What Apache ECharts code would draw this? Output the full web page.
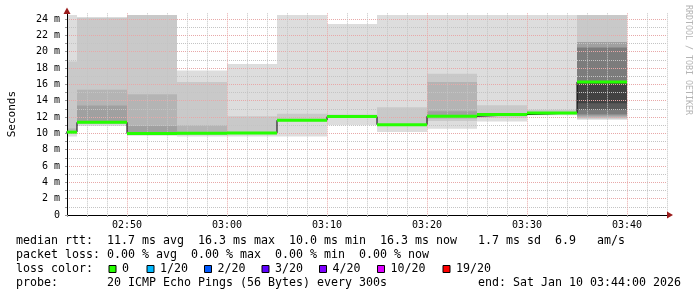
<!DOCTYPE html>
<html><head><meta charset="utf-8">
<script src="https://cdn.jsdelivr.net/npm/echarts@6/dist/echarts.min.js"></script>
<style>html,body{margin:0;padding:0;background:#fff}#c{width:697px;height:297px}</style>
</head><body><div id="c"></div>
<script>
// ---- data ----
const slotStarts = ['02:40','02:45','02:50','02:55','03:00','03:05','03:10','03:15','03:20','03:25','03:30','03:35'];
const slotMinutes = 5;
const medianMs = [10.15, 11.35, 9.97, 10.0, 10.05, 11.6, 12.05, 11.06, 12.1, 12.3, 12.5, 16.3];
// smoke layers, outermost (lightest) to innermost (darkest): [low, high] in ms
const smoke0 = [[9.6,24.5],[10.9,24.2],[9.7,24.5],[9.6,17.7],[9.6,18.5],[9.6,24.5],[11.0,23.4],[10.15,24.5],[10.55,24.5],[11.45,24.5],[12.2,24.5],[11.65,24.5]];
const smoke1 = [[10.0,18.8],[11.1,24.2],[9.8,24.5],[9.8,16.3],[9.9,12.1],[11.45,12.4],[11.9,12.3],[10.9,13.2],[11.5,17.3],[11.9,13.45],[12.3,12.9],[11.8,24.5]];
const smoke2 = [[10.05,10.6],[11.2,15.35],[9.9,14.8],[9.9,11.0],null,null,null,null,[11.8,16.3],null,null,[11.9,21.2]];
const smoke3 = [null,[11.3,13.4],[9.95,10.9],null,null,null,null,null,[12.0,12.7],null,null,[12.1,21.2]];
const smoke4 = [null,null,null,null,null,null,null,null,null,null,null,[12.3,20.5]];
const smoke5 = [null,null,null,null,null,null,null,null,null,null,null,[12.9,16.3]];
const smoke6 = [null,null,null,null,null,null,null,null,null,null,null,[13.7,16.3]];
const axisStart = '02:44', axisEnd = '03:44';
const xTickLabels = ['02:50','03:00','03:10','03:20','03:30','03:40'];
const yTickValues = [0,2,4,6,8,10,12,14,16,18,20,22,24];
const yTickLabels = ['0','2 m','4 m','6 m','8 m','10 m','12 m','14 m','16 m','18 m','20 m','22 m','24 m'];
const lossLabels = ['0','1/20','2/20','3/20','4/20','10/20','19/20'];
const lossColors = ['#26ff00','#00b8ff','#0059ff','#5e00ff','#7e00ff','#dd00ff','#ff0000'];
const legendLine1 = 'median rtt:  11.7 ms avg  16.3 ms max  10.0 ms min  16.3 ms now   1.7 ms sd  6.9   am/s';
const legendLine2 = 'packet loss: 0.00 % avg  0.00 % max  0.00 % min  0.00 % now';
const legendLine3 = 'loss color:';
const legendLine4 = 'probe:       20 ICMP Echo Pings (56 Bytes) every 300s';
const legendEnd = 'end: Sat Jan 10 03:44:00 2026';

// ---- helpers ----
const toMin = s => { const p = s.split(':').map(Number); return p[0]*60 + p[1]; };
const fmtMin = m => String(Math.floor(m/60)).padStart(2,'0') + ':' + String(m%60).padStart(2,'0');
const xMin = toMin(axisStart), xMax = toMin(axisEnd);
const layers = [smoke0, smoke1, smoke2, smoke3, smoke4, smoke5, smoke6];
const layerColors = ['#dddddd','#c9c9c9','#b4b4b4','#a0a0a0','#7c7c7c','#5a5a5a','#424242'];
const MONO = '"DejaVu Sans Mono", monospace';
const RED = '#e8a8a8', GRAY = '#c4c4c4';

const xSplitColors = [];
for (let v = xMin; v <= xMax; v += 2) xSplitColors.push(v % 10 === 0 ? RED : GRAY);
const yMax = 24.7;
const ySplitColors = [];
for (let v = 0; v <= 24; v++) ySplitColors.push(v % 2 === 0 ? RED : GRAY);
ySplitColors.push('rgba(0,0,0,0)');

const slotData = slotStarts.map((s, i) => [toMin(s), toMin(s) + slotMinutes, i, smoke0[i][0], smoke0[i][1]]);
const medianLine = slotStarts.map((s, i) => [toMin(s), medianMs[i]]);
medianLine.push([toMin(slotStarts[slotStarts.length-1]) + slotMinutes, medianMs[medianMs.length-1]]);
const medianSeg = slotStarts.map((s, i) => [toMin(s), toMin(s) + slotMinutes, medianMs[i]]);

const chart = echarts.init(document.getElementById('c'), null, {renderer: 'canvas'});

const graphics = [];
// axis arrows
graphics.push({type:'polygon', z:100, shape:{points:[[673,215],[667,211.5],[667,218.5]]}, style:{fill:'#9b1c1c'}});
graphics.push({type:'polygon', z:100, shape:{points:[[67,7.5],[63.5,14],[70.5,14]]}, style:{fill:'#9b1c1c'}});
// legend text
const lf = '11.63px ' + MONO;
[[legendLine1,241],[legendLine2,255],[legendLine3,269],[legendLine4,283]].forEach(([t,y]) => {
  graphics.push({type:'text', x:16, y:y, style:{text:t, font:lf, fill:'#000', textAlign:'left', textVerticalAlign:'middle'}});
});
graphics.push({type:'text', x:681, y:283, style:{text:legendEnd, font:lf, fill:'#000', textAlign:'right', textVerticalAlign:'middle'}});
const boxX = [108.5, 146.5, 204, 261.5, 319, 377, 442.5];
lossLabels.forEach((lab, i) => {
  graphics.push({type:'rect', shape:{x:boxX[i]+0.5, y:265.5, width:7, height:7}, style:{fill:lossColors[i], stroke:'#000', lineWidth:1}});
  graphics.push({type:'text', x:boxX[i]+13.5, y:269, style:{text:lab, font:lf, fill:'#000', textAlign:'left', textVerticalAlign:'middle'}});
});
// watermark
graphics.push({type:'text', x:688, y:5, rotation:-Math.PI/2, style:{text:'RRDTOOL / TOBI OETIKER', font:'8.3px ' + MONO, fill:'#b4b4b4', textAlign:'left', textVerticalAlign:'middle'}});

chart.setOption({
  animation: false,
  backgroundColor: '#ffffff',
  grid: {left: 67, right: 30, top: 13.3, bottom: 82, containLabel: false, outerBoundsMode: 'none'},
  xAxis: {
    type: 'value', min: xMin, max: xMax, interval: 2, z: 3,
    axisLine: {show: true, onZero: false, lineStyle: {color: '#000', width: 1}},
    axisTick: {show: true, length: 2, lineStyle: {color: '#999'}},
    axisLabel: {
      margin: 5, fontFamily: MONO, fontSize: 10, color: '#000',
      formatter: v => { const s = fmtMin(v); return xTickLabels.indexOf(s) >= 0 ? s : ''; }
    },
    splitLine: {show: true, lineStyle: {color: xSplitColors, type: [1,1], width: 1}}
  },
  yAxis: {
    type: 'value', min: 0, max: yMax, interval: 1, z: 3,
    name: 'Seconds', nameLocation: 'middle', nameRotate: 90, nameGap: 49,
    nameTextStyle: {fontFamily: MONO, fontSize: 11, color: '#000'},
    axisLine: {show: true, lineStyle: {color: '#000', width: 1}},
    axisTick: {show: true, length: 2, lineStyle: {color: '#999'}},
    axisLabel: {
      margin: 7, fontFamily: MONO, fontSize: 10, color: '#000',
      formatter: v => { const k = yTickValues.indexOf(v); return k >= 0 ? yTickLabels[k] : ''; }
    },
    splitLine: {show: true, lineStyle: {color: ySplitColors, type: [1,1], width: 1}}
  },
  series: [
    {
      type: 'custom', z: 1, silent: true,
      data: slotData,
      encode: {x: [0,1], y: [3,4]},
      renderItem: (params, api) => {
        const i = api.value(2);
        const x0 = Math.max(api.value(0), xMin), x1 = api.value(1);
        const children = [];
        layers.forEach((L, k) => {
          const b = L[i];
          if (!b) return;
          const p0 = api.coord([x0, b[1]]), p1 = api.coord([x1, b[0]]);
          children.push({type:'rect', shape:{x:p0[0], y:p0[1], width:p1[0]-p0[0], height:p1[1]-p0[1]}, style:{fill: layerColors[k]}});
        });
        return {type:'group', children};
      }
    },
    {
      type: 'line', z: 4, silent: true, step: 'end', symbol: 'none', clip: true,
      data: medianLine,
      lineStyle: {color: '#000', width: 1}
    },
    {
      type: 'custom', z: 5, silent: true,
      data: medianSeg,
      encode: {x: [0,1], y: 2},
      renderItem: (params, api) => {
        const x0 = Math.max(api.value(0), xMin), x1 = api.value(1), v = api.value(2);
        const p0 = api.coord([x0, v]), p1 = api.coord([x1, v]);
        return {type:'line', shape:{x1:p0[0], y1:p0[1], x2:p1[0], y2:p1[1]}, style:{stroke:'#26ff00', lineWidth:3}};
      }
    }
  ],
  graphic: graphics
});
</script></body></html>
